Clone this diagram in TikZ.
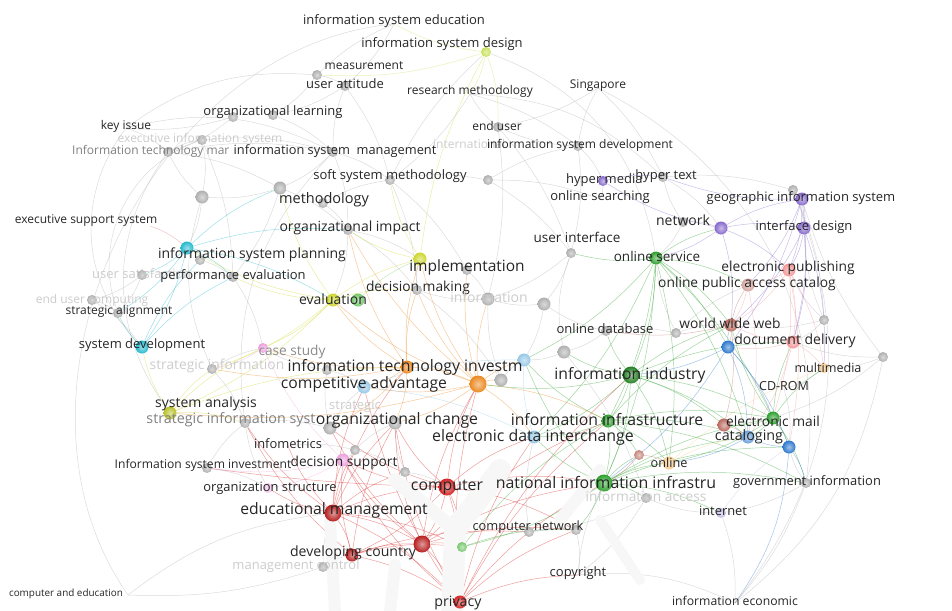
\documentclass[tikz,border=0pt]{standalone}
\usepackage{fontspec}
\setmainfont{Open Sans}
\usetikzlibrary{backgrounds}

\definecolor{cred}{RGB}{215,35,35}
\definecolor{cgreen}{RGB}{45,160,45}
\definecolor{corange}{RGB}{235,135,30}
\definecolor{cyellow}{RGB}{205,215,45}
\definecolor{ccyan}{RGB}{35,185,205}
\definecolor{cpurple}{RGB}{135,105,205}
\definecolor{cblue}{RGB}{45,120,205}
\definecolor{cpink}{RGB}{245,150,150}
\definecolor{cbrown}{RGB}{185,105,95}
\definecolor{clblue}{RGB}{150,200,230}
\definecolor{clpink}{RGB}{235,160,220}
\definecolor{cpeach}{RGB}{245,205,145}
\definecolor{cgray}{RGB}{175,175,175}
\definecolor{clgreen}{RGB}{120,200,110}
\definecolor{clav}{RGB}{195,190,230}
\definecolor{cygreen}{RGB}{200,225,90}

\tikzset{
  ball/.style={circle, inner sep=0pt, minimum size=10pt, inner color=#1!45!white, outer color=#1},
  ballm/.style={minimum size=13pt},
  ballb/.style={minimum size=17pt},
  lbl/.style={inner sep=0pt, text=black!85, font=\fontsize{#1}{#1}\selectfont},
  lbl/.default=13,
  dim/.style={text=black!50},
  fade/.style={text=black!20},
  edge/.style={line width=.5pt, opacity=.45, draw=#1},
  edge/.default=cgray
}

\begin{document}
\begin{tikzpicture}[x=1pt,y=-1pt]
\useasboundingbox (0,0) rectangle (952,610);

% FAINT TREE IN THE BACKGROUND
\draw[line width=22pt, black!3, line cap=round] (452,612) -- (455,530) -- (500,470);
\draw[line width=14pt, black!3, line cap=round] (455,530) -- (395,480);
\draw[line width=12pt, black!3, line cap=round] (330,520) -- (335,612);
\draw[line width=12pt, black!3, line cap=round] (395,565) -- (390,612);
\draw[line width=12pt, black!3, line cap=round] (560,520) -- (600,470);
\draw[line width=10pt, black!3, line cap=round] (600,520) -- (640,580);

% LABEL-ONLY POINTS
\coordinate (isEdu) at (394,24);
\coordinate (resMeth) at (470,94);
\coordinate (singapore) at (598,88);
\coordinate (keyIssue) at (126,128);
\coordinate (exSupport) at (150,226);
\coordinate (onlineSearch) at (600,199);
\coordinate (cdrom) at (784,389);
\coordinate (infometrics) at (288,446);
\coordinate (copyright) at (578,575);
\coordinate (infoEcon) at (735,603);
\coordinate (compEdu) at (128,595);

% GRAY NODES
\node[ball=cgray] (measure) at (317,75) {};
\node[ball=cgray] (userAtt) at (345,86) {};
\node[ball=cgray] (orgLearnA) at (233,117) {};
\node[ball=cgray] (orgLearnB) at (273,115) {};
\node[ball=cgray] (endUser) at (498,127) {};
\node[ball=cgray] (isDev) at (578,146) {};
\node[ball=cgray] (itMar) at (168,152) {};
\node[ball=cgray] (exInfo) at (202,140) {};
\node[ball=cgray] (isMgmt) at (333,152) {};
\node[ball=cgray] (softSys) at (390,180) {};
\node[ball=cgray] (grayA) at (488,180) {};
\node[ball=cgray,ballm] (method) at (280,188) {};
\node[ball=cgray,ballm] (grayB) at (202,197) {};
\node[ball=cgray] (methodB) at (323,203) {};
\node[ball=cgray] (hyperText) at (663,177) {};
\node[ball=cgray] (geoB) at (793,190) {};
\node[ball=cgray] (netB) at (683,222) {};
\node[ball=cgray] (orgImpact) at (348,230) {};
\node[ball=cgray] (userInt) at (571,253) {};
\node[ball=cgray] (ispB) at (200,260) {};
\node[ball=cgray] (perfEval) at (233,277) {};
\node[ball=cgray] (userSat) at (142,275) {};
\node[ball=cgray] (endUserC) at (92,300) {};
\node[ball=cgray] (stratAlign) at (118,313) {};
\node[ball=cgray] (implB) at (467,270) {};
\node[ball=cgray] (decMake) at (417,290) {};
\node[ball=cgray,ballm] (info) at (488,299) {};
\node[ball=cgray,ballm] (grayC) at (544,304) {};
\node[ball=cgray] (onlineDb) at (606,331) {};
\node[ball=cgray] (grayD) at (676,333) {};
\node[ball=cgray,ballm] (grayE) at (564,352) {};
\node[ball=cgray,ballm] (grayF) at (501,380) {};
\node[ball=cgray] (grayG) at (824,320) {};
\node[ball=cgray] (grayH) at (883,357) {};
\node[ball=cgray] (stratInfo) at (212,369) {};
\node[ball=cgray] (grayI) at (327,370) {};
\node[ball=cgray] (stratIS) at (245,423) {};
\node[ball=cgray,ballm] (grayJ) at (330,428) {};
\node[ball=cgray,ballm] (orgChange) at (395,423) {};
\node[ball=cgray] (grayK) at (355,450) {};
\node[ball=cgray] (isInvest) at (207,468) {};
\node[ball=cgray] (grayL) at (405,472) {};
\node[ball=cgray] (mgmt) at (323,567) {};
\node[ball=cgray] (compNetB) at (529,532) {};
\node[ball=cgray] (compNet) at (576,530) {};
\node[ball=cgray] (infoAccess) at (646,498) {};
\node[ball=cgray] (govInfo) at (806,483) {};

% COLOURED NODES
\node[ball=cygreen] (isDesign) at (486,52) {};
\node[ball=cpurple] (hyperMedia) at (603,181) {};
\node[ball=cpurple,ballm] (geo) at (802,199) {};
\node[ball=cpurple,ballm] (network) at (721,228) {};
\node[ball=cpurple,ballm] (interface) at (804,228) {};
\node[ball=ccyan,ballm] (isp) at (187,248) {};
\node[ball=cyellow,ballm] (implement) at (420,259) {};
\node[ball=cgreen,ballm] (onlineServ) at (656,258) {};
\node[ball=cpink,ballm] (ePub) at (789,270) {};
\node[ball=cbrown!60!white,ballm] (opac) at (748,285) {};
\node[ball=cyellow,ballm] (eval) at (333,300) {};
\node[ball=clgreen,ballm] (evalB) at (358,300) {};
\node[ball=cbrown,ballm] (www) at (731,325) {};
\node[ball=ccyan,ballm] (sysDev) at (142,347) {};
\node[ball=cblue,ballm] (blueA) at (728,347) {};
\node[ball=cpink,ballm] (docDel) at (793,342) {};
\node[ball=clpink] (caseStudy) at (263,348) {};
\node[ball=clblue,ballm] (lblueA) at (524,360) {};
\node[ball=corange,ballm] (itInv) at (407,367) {};
\node[ball=corange,ballb] (itInvB) at (478,384) {};
\node[ball=cpeach] (multimedia) at (824,368) {};
\node[ball=clblue,ballm] (compAdv) at (364,387) {};
\node[ball=cgreen!80!black,ballb] (infoInd) at (631,375) {};
\node[ball=cyellow!90!black,ballm] (sysAnal) at (170,413) {};
\node[ball=cgreen,ballm] (infoInfra) at (608,421) {};
\node[ball=cbrown,ballm] (brownB) at (724,425) {};
\node[ball=cgreen,ballm] (email) at (773,418) {};
\node[ball=clblue,ballm] (edi) at (534,437) {};
\node[ball=cblue!70!white,ballm] (catalog) at (748,437) {};
\node[ball=cblue,ballm] (blueB) at (789,447) {};
\node[ball=clpink,ballm] (decSup) at (343,460) {};
\node[ball=cbrown!80!white] (brownC) at (639,455) {};
\node[ball=cpeach,ballm] (online) at (669,463) {};
\node[ball=cred,ballb] (computer) at (447,487) {};
\node[ball=cgreen,ballb] (nii) at (604,483) {};
\node[ball=clpink!60!white] (orgStruct) at (268,488) {};
\node[ball=cred!85!black,ballb] (eduMgmt) at (333,513) {};
\node[ball=clav] (internet) at (721,513) {};
\node[ball=cred!85!black,ballb] (redB) at (422,544) {};
\node[ball=clgreen] (greenB) at (462,547) {};
\node[ball=cred!85!black,ballm] (devCountry) at (352,555) {};
\node[ball=cred,ballm] (privacy) at (460,602) {};

% EDGES
\begin{scope}[on background layer, every to/.style={bend left=10}]
% gray web
\draw[edge] (measure) to (userAtt); \draw[edge] (measure) to (isEdu); \draw[edge] (userAtt) to (orgLearnB); \draw[edge] (orgLearnA) to (itMar); \draw[edge] (orgLearnA) to (keyIssue); \draw[edge] (itMar) to (exInfo); \draw[edge] (itMar) to (isMgmt); \draw[edge] (exInfo) to (isMgmt); \draw[edge] (isMgmt) to (softSys); \draw[edge] (isMgmt) to (method);
\draw[edge] (softSys) to (grayA); \draw[edge] (grayA) to (isDev); \draw[edge] (isDev) to (endUser); \draw[edge] (isDev) to (singapore); \draw[edge] (endUser) to (resMeth); \draw[edge] (method) to (grayB); \draw[edge] (grayB) to (itMar); \draw[edge] (method) to (orgImpact); \draw[edge] (methodB) to (softSys); \draw[edge] (orgLearnB) to (isMgmt);
\draw[edge] (userInt) to (grayC); \draw[edge] (userInt) to (info); \draw[edge] (grayC) to (info); \draw[edge] (info) to (decMake); \draw[edge] (decMake) to (implement); \draw[edge] (onlineDb) to (grayC); \draw[edge] (onlineDb) to (grayE); \draw[edge] (grayE) to (lblueA); \draw[edge] (grayF) to (lblueA); \draw[edge] (grayF) to (info);
\draw[edge] (grayG) to (ePub); \draw[edge] (grayG) to (docDel); \draw[edge] (grayH) to (multimedia); \draw[edge] (grayH) to (geo); \draw[edge] (grayH) to (email); \draw[edge] (grayG) to (interface); \draw[edge] (grayD) to (onlineServ); \draw[edge] (grayD) to (www); \draw[edge] (netB) to (hyperText); \draw[edge] (netB) to (onlineServ);
\draw[edge] (userSat) to (endUserC); \draw[edge] (endUserC) to (stratAlign); \draw[edge] (userSat) to (perfEval); \draw[edge] (stratInfo) to (caseStudy); \draw[edge] (grayI) to (caseStudy); \draw[edge] (stratIS) to (grayJ); \draw[edge] (grayJ) to (orgChange); \draw[edge] (grayK) to (decSup); \draw[edge] (grayL) to (computer); \draw[edge] (grayK) to (orgChange);
\draw[edge] (govInfo) to (infoEcon); \draw[edge] (govInfo) to (blueB); \draw[edge] (internet) to (infoEcon); \draw[edge] (internet) to (infoAccess); \draw[edge] (compNet) to (copyright); \draw[edge] (compNetB) to (compNet); \draw[edge] (mgmt) to (devCountry); \draw[edge] (mgmt) to (compEdu); \draw[edge] (isInvest) to (stratIS); \draw[edge] (infometrics) to (grayK);
\draw[edge] (hyperMedia) to (onlineSearch); \draw[edge] (hyperText) to (geoB); \draw[edge] (geoB) to (grayG); \draw[edge] (singapore) to (hyperText); \draw[edge] (grayA) to (userInt); \draw[edge] (endUser) to (info); \draw[edge] (isDev) to (hyperMedia); \draw[edge] (softSys) to (implB); \draw[edge] (implB) to (info); \draw[edge] (orgImpact) to (decMake);
\draw[edge] (isMgmt) to (orgImpact); \draw[edge] (isMgmt) to (userAtt); \draw[edge] (measure) to (orgLearnB); \draw[edge] (userAtt) to (softSys); \draw[edge] (itMar) to (method); \draw[edge] (exInfo) to (grayB); \draw[edge] (grayB) to (isp); \draw[edge] (method) to (perfEval); \draw[edge] (methodB) to (orgImpact); \draw[edge] (orgImpact) to (eval); \draw[edge] (orgImpact) to (implement); \draw[edge] (softSys) to (decMake);
\draw[edge] (endUser) to (userInt); \draw[edge] (isDev) to (userInt); \draw[edge] (grayA) to (onlineSearch); \draw[edge] (keyIssue) to (itMar); \draw[edge] (exInfo) to (perfEval); \draw[edge] (userSat) to (stratAlign); \draw[edge] (endUserC) to (sysDev); \draw[edge] (perfEval) to (caseStudy); \draw[edge] (stratInfo) to (stratIS); \draw[edge] (grayI) to (compAdv); \draw[edge] (grayJ) to (compAdv); \draw[edge] (isInvest) to (orgStruct);
\draw[edge] (orgStruct) to (stratIS); \draw[edge] (grayK) to (grayL); \draw[edge] (grayL) to (orgChange); \draw[edge] (onlineDb) to (grayD); \draw[edge] (grayD) to (opac); \draw[edge] (grayC) to (lblueA); \draw[edge] (hyperText) to (network); \draw[edge] (geoB) to (interface); \draw[edge] (netB) to (network); \draw[edge] (grayG) to (www); \draw[edge] (grayH) to (docDel); \draw[edge] (multimedia) to (cdrom);
\draw[edge] (govInfo) to (internet); \draw[edge] (infoAccess) to (compNetB); \draw[edge] (compNetB) to (edi); \draw[edge] (mgmt) to (eduMgmt); \draw[edge] (copyright) to (nii); \draw[edge] (softSys) to (isDesign); \draw[edge] (resMeth) to (softSys); \draw[edge] (isEdu) to (userAtt); \draw[edge] (singapore) to (endUser); \draw[edge] (resMeth) to (isDev); \draw[edge] (measure) to[bend right=20] (keyIssue); \draw[edge] (ispB) to (perfEval);
% long gray arcs
\draw[edge] (isEdu) to[bend right=60] (compEdu); \draw[edge] (keyIssue) to[bend right=40] (sysDev); \draw[edge] (exInfo) to[bend right=45] (stratAlign); \draw[edge] (itMar) to[bend right=35] (sysAnal); \draw[edge] (compEdu) to[bend left=15] (eduMgmt); \draw[edge] (singapore) to[bend left=35] (govInfo); \draw[edge] (geoB) to[bend left=30] (infoEcon); \draw[edge] (grayH) to[bend left=20] (infoEcon); \draw[edge] (isDesign) to[bend left=30] (onlineServ); \draw[edge] (isMgmt) to[bend right=25] (stratIS);
\draw[edge] (copyright) to[bend left=15] (infoEcon); \draw[edge] (infoAccess) to[bend left=10] (copyright); \draw[edge] (grayB) to[bend right=20] (stratInfo); \draw[edge] (keyIssue) to[bend left=20] (isMgmt); \draw[edge] (resMeth) to[bend left=20] (hyperText); \draw[edge] (grayI) to[bend right=10] (grayJ); \draw[edge] (decMake) to (grayF); \draw[edge] (userInt) to[bend right=15] (grayE); \draw[edge] (grayE) to (infoAccess); \draw[edge] (cdrom) to (blueB);
% cyan and yellow
\draw[edge=ccyan] (isp) to (sysDev); \draw[edge=ccyan] (isp) to (method); \draw[edge=ccyan] (isp) to (orgImpact); \draw[edge=ccyan] (isp) to (perfEval); \draw[edge=ccyan] (isp) to (stratAlign); \draw[edge=ccyan] (isp) to (userSat); \draw[edge=ccyan] (isp) to (eval); \draw[edge=ccyan] (sysDev) to (stratAlign); \draw[edge=ccyan] (sysDev) to (perfEval); \draw[edge=ccyan] (sysDev) to (ispB); \draw[edge=cred!60] (exSupport) to (isp);
\draw[edge=cyellow] (eval) to (implement); \draw[edge=cyellow] (eval) to (isp); \draw[edge=cyellow] (eval) to (sysAnal); \draw[edge=cyellow] (eval) to (caseStudy); \draw[edge=cyellow] (eval) to (perfEval); \draw[edge=cyellow] (eval) to (stratInfo); \draw[edge=cyellow] (eval) to (decMake); \draw[edge=cyellow] (eval) to (method); \draw[edge=cyellow] (implement) to (isDesign); \draw[edge=cyellow] (implement) to (softSys); \draw[edge=cyellow] (implement) to (orgImpact);
\draw[edge=cyellow] (sysAnal) to (stratIS); \draw[edge=cyellow] (sysAnal) to (stratInfo); \draw[edge=cyellow] (sysAnal) to (sysDev); \draw[edge=cyellow] (sysAnal) to (caseStudy); \draw[edge=cyellow] (sysAnal) to (itInv); \draw[edge=cygreen] (isDesign) to (isEdu); \draw[edge=cygreen] (isDesign) to (resMeth); \draw[edge=cygreen] (isDesign) to (endUser); \draw[edge=cygreen] (isDesign) to (measure); \draw[edge=clgreen] (evalB) to (implement);
% orange
\draw[edge=corange] (itInv) to (itInvB); \draw[edge=corange] (itInv) to (compAdv); \draw[edge=corange] (itInv) to (implement); \draw[edge=corange] (itInv) to (eval); \draw[edge=corange] (itInv) to (decMake); \draw[edge=corange] (itInv) to (orgChange); \draw[edge=corange] (itInv) to (caseStudy); \draw[edge=corange] (itInv) to (orgImpact); \draw[edge=corange] (itInv) to (stratInfo); \draw[edge=corange] (itInv) to (grayJ);
\draw[edge=corange] (itInvB) to (implement); \draw[edge=corange] (itInvB) to (decMake); \draw[edge=corange] (itInvB) to (compAdv); \draw[edge=corange] (itInvB) to (orgChange); \draw[edge=corange] (itInvB) to (edi); \draw[edge=corange] (itInvB) to (info); \draw[edge=corange] (itInvB) to (grayF); \draw[edge=corange] (itInvB) to (lblueA); \draw[edge=corange] (itInvB) to (eval); \draw[edge=corange] (itInvB) to (orgImpact); \draw[edge=corange] (itInvB) to (sysAnal); \draw[edge=corange] (itInvB) to (infoInfra); \draw[edge=corange] (itInvB) to (implB);
% red
\draw[edge=cred] (eduMgmt) to (computer); \draw[edge=cred] (eduMgmt) to (devCountry); \draw[edge=cred] (eduMgmt) to (redB); \draw[edge=cred] (eduMgmt) to (privacy); \draw[edge=cred] (eduMgmt) to (decSup); \draw[edge=cred] (eduMgmt) to (orgChange); \draw[edge=cred] (eduMgmt) to (stratIS); \draw[edge=cred] (eduMgmt) to (grayK); \draw[edge=cred] (eduMgmt) to (orgStruct); \draw[edge=cred] (eduMgmt) to (greenB); \draw[edge=cred] (eduMgmt) to (itInv); \draw[edge=cred] (eduMgmt) to (compAdv); \draw[edge=cred] (eduMgmt) to (grayL); \draw[edge=cred] (eduMgmt) to (infometrics);
\draw[edge=cred] (computer) to (privacy); \draw[edge=cred] (computer) to (redB); \draw[edge=cred] (computer) to (devCountry); \draw[edge=cred] (computer) to (decSup); \draw[edge=cred] (computer) to (orgChange); \draw[edge=cred] (computer) to (greenB); \draw[edge=cred] (computer) to (nii); \draw[edge=cred] (computer) to (compNet); \draw[edge=cred] (computer) to (itInvB); \draw[edge=cred] (computer) to (edi); \draw[edge=cred] (computer) to[bend left=3] (isInvest); \draw[edge=cred] (computer) to (grayJ);
\draw[edge=cred] (devCountry) to (privacy); \draw[edge=cred] (devCountry) to (redB); \draw[edge=cred] (devCountry) to (greenB); \draw[edge=cred] (devCountry) to (decSup); \draw[edge=cred] (devCountry) to (orgChange); \draw[edge=cred] (devCountry) to (compNetB); \draw[edge=cred] (devCountry) to (stratIS);
\draw[edge=cred] (redB) to (privacy); \draw[edge=cred] (redB) to (greenB); \draw[edge=cred] (redB) to (orgChange); \draw[edge=cred] (redB) to (compNet); \draw[edge=cred] (redB) to (nii); \draw[edge=cred] (redB) to (itInvB); \draw[edge=cred] (redB) to (infoInfra); \draw[edge=cred] (redB) to (decSup); \draw[edge=cred] (redB) to (grayJ);
\draw[edge=cred] (privacy) to (greenB); \draw[edge=cred] (privacy) to (copyright); \draw[edge=cred] (privacy) to (nii); \draw[edge=cred] (privacy) to (compNet); \draw[edge=cred] (privacy) to (edi); \draw[edge=cred] (privacy) to (itInvB); \draw[edge=cred] (privacy) to (infoInd); \draw[edge=cred] (privacy) to (orgChange); \draw[edge=cred] (privacy) to (decSup); \draw[edge=cred] (privacy) to (compAdv); \draw[edge=cred] (privacy) to (infoInfra);
% green
\draw[edge=cgreen] (onlineServ) to (infoInd); \draw[edge=cgreen] (onlineServ) to (infoInfra); \draw[edge=cgreen] (onlineServ) to (nii); \draw[edge=cgreen] (onlineServ) to (email); \draw[edge=cgreen] (onlineServ) to (www); \draw[edge=cgreen] (onlineServ) to (userInt); \draw[edge=cgreen] (onlineServ) to (network); \draw[edge=cgreen] (onlineServ) to (online); \draw[edge=cgreen] (onlineServ) to (catalog); \draw[edge=cgreen] (onlineServ) to (lblueA); \draw[edge=cgreen] (onlineServ) to (edi); \draw[edge=cgreen] (onlineServ) to (opac); \draw[edge=cgreen] (onlineServ) to (blueA);
\draw[edge=cgreen] (infoInd) to (infoInfra); \draw[edge=cgreen] (infoInd) to (nii); \draw[edge=cgreen] (infoInd) to (email); \draw[edge=cgreen] (infoInd) to (docDel); \draw[edge=cgreen] (infoInd) to (online); \draw[edge=cgreen] (infoInd) to (catalog); \draw[edge=cgreen] (infoInd) to (itInvB); \draw[edge=cgreen] (infoInd) to (edi); \draw[edge=cgreen] (infoInd) to (www); \draw[edge=cgreen] (infoInd) to (brownB); \draw[edge=cgreen] (infoInd) to (grayE); \draw[edge=cgreen] (infoInd) to (onlineDb);
\draw[edge=cgreen] (infoInfra) to (nii); \draw[edge=cgreen] (infoInfra) to (email); \draw[edge=cgreen] (infoInfra) to (catalog); \draw[edge=cgreen] (infoInfra) to (edi); \draw[edge=cgreen] (infoInfra) to (online); \draw[edge=cgreen] (infoInfra) to (brownC); \draw[edge=cgreen] (infoInfra) to (www); \draw[edge=cgreen] (infoInfra) to (lblueA); \draw[edge=cgreen] (infoInfra) to (govInfo);
\draw[edge=cgreen] (nii) to (email); \draw[edge=cgreen] (nii) to (online); \draw[edge=cgreen] (nii) to (govInfo); \draw[edge=cgreen] (nii) to (internet); \draw[edge=cgreen] (nii) to (catalog); \draw[edge=cgreen] (nii) to (edi); \draw[edge=cgreen] (nii) to (brownC); \draw[edge=cgreen] (nii) to (infoAccess); \draw[edge=cgreen] (nii) to (compNet); \draw[edge=cgreen] (nii) to (greenB); \draw[edge=cgreen] (nii) to (blueB); \draw[edge=cgreen] (nii) to (lblueA);
\draw[edge=cgreen] (email) to (catalog); \draw[edge=cgreen] (email) to (blueB); \draw[edge=cgreen] (email) to (docDel); \draw[edge=cgreen] (email) to (www); \draw[edge=cgreen] (email) to (online); \draw[edge=cgreen] (email) to (govInfo); \draw[edge=cgreen] (email) to (brownB); \draw[edge=cgreen] (email) to (multimedia); \draw[edge=cgreen] (greenB) to (compNet); \draw[edge=cgreen] (greenB) to (infoInfra);
% purple, pink, blue, brown
\draw[edge=cpurple] (network) to (geo); \draw[edge=cpurple] (network) to (interface); \draw[edge=cpurple] (network) to (onlineServ); \draw[edge=cpurple] (network) to (www); \draw[edge=cpurple] (network) to (ePub); \draw[edge=cpurple] (network) to (hyperMedia); \draw[edge=cpurple] (geo) to (interface); \draw[edge=cpurple] (geo) to (ePub); \draw[edge=cpurple] (geo) to (opac); \draw[edge=cpurple] (geo) to (hyperText); \draw[edge=cpurple] (interface) to (ePub); \draw[edge=cpurple] (interface) to (docDel); \draw[edge=cpurple] (interface) to (multimedia); \draw[edge=cpurple] (interface) to (www); \draw[edge=cpurple] (hyperMedia) to (hyperText); \draw[edge=cpurple] (geo) to (docDel); \draw[edge=cpurple] (geo) to (blueA);
\draw[edge=cpink] (ePub) to (docDel); \draw[edge=cpink] (ePub) to (opac); \draw[edge=cpink] (ePub) to (www); \draw[edge=cpink] (ePub) to (multimedia); \draw[edge=cpink] (ePub) to (email); \draw[edge=cpink] (docDel) to (www); \draw[edge=cpink] (docDel) to (catalog); \draw[edge=cpink] (docDel) to (multimedia); \draw[edge=cpink] (docDel) to (blueA); \draw[edge=cpink] (opac) to (www); \draw[edge=cpink] (opac) to (catalog); \draw[edge=cpink] (ePub) to (blueB);
\draw[edge=cblue] (blueA) to (catalog); \draw[edge=cblue] (blueA) to (blueB); \draw[edge=cblue] (blueA) to (email); \draw[edge=cblue] (blueA) to (www); \draw[edge=cblue] (blueA) to (infoInd); \draw[edge=cblue] (blueB) to (govInfo); \draw[edge=cblue] (blueB) to (catalog); \draw[edge=cblue] (blueB) to[bend left=15] (infoEcon); \draw[edge=cblue] (catalog) to (online); \draw[edge=cblue] (blueA) to (nii);
\draw[edge=cbrown] (www) to (blueA); \draw[edge=cbrown] (www) to (opac); \draw[edge=cbrown] (www) to (brownB); \draw[edge=cbrown] (brownB) to (catalog); \draw[edge=cbrown] (brownC) to (online); \draw[edge=cbrown] (brownC) to (nii); \draw[edge=cbrown] (www) to (onlineDb);
\draw[edge=clblue] (compAdv) to (edi); \draw[edge=clblue] (compAdv) to (lblueA); \draw[edge=clblue] (edi) to (lblueA); \draw[edge=clpink] (decSup) to (orgStruct); \draw[edge=clpink] (decSup) to (caseStudy); \draw[edge=clpink] (decSup) to (isInvest); \draw[edge=clpink] (caseStudy) to (stratInfo); \draw[edge=cpeach] (online) to (multimedia); \draw[edge=cpeach] (online) to (catalog); \draw[edge=clav] (internet) to (blueB);
\end{scope}

% LABELS
\node[lbl] (tIsEdu) at (394,21) {information system education};
\node[lbl] (tIsDesign) at (442,44) {information system design};
\node[lbl=12] (tMeasure) at (364,66) {measurement};
\node[lbl] (tUserAtt) at (345,84) {user attitude};
\node[lbl=12] (tResMeth) at (470,91) {research methodology};
\node[lbl=12] (tSingapore) at (598,86) {Singapore};
\node[lbl] (tOrgLearn) at (273,112) {organizational learning};
\node[lbl=12] (tKeyIssue) at (126,126) {key issue};
\node[lbl=12] (tEndUser) at (497,126) {end user};
\node[lbl=12,fade] (tExInfo) at (200,139) {executive information system};
\node[lbl=12,fade,anchor=west] (tIntl) at (433,144) {international};
\node[lbl=12] (tIsDev) at (580,145) {information system development};
\node[lbl=12,dim,anchor=west] (tItMar) at (72,151) {Information technology mar};
\node[lbl=12.8] (tIsMgmt) at (335,151) {information system\ \ management};
\node[lbl] (tSoftSys) at (390,176) {soft system methodology};
\node[lbl,anchor=west] (tHyperMedia) at (566,180) {hyper media};
\node[lbl] (tHyperText) at (666,176) {hyper text};
\node[lbl] (tOnlineSearch) at (600,197) {online searching};
\node[lbl] (tGeo) at (801,198) {geographic information system};
\node[lbl=14.5] (tMethod) at (324,200) {methodology};
\node[lbl=12] (tExSupport) at (86,221) {executive support system};
\node[lbl=14] (tOrgImpact) at (350,228) {organizational impact};
\node[lbl=14] (tNetwork) at (683,220) {network};
\node[lbl] (tInterface) at (804,227) {interface design};
\node[lbl=13.5] (tUserInt) at (577,237) {user interface};
\node[lbl=14] (tIsp) at (252,255) {information system planning};
\node[lbl=15.5] (tImplement) at (467,267) {implementation};
\node[lbl=13.5] (tOnlineServ) at (657,256) {online service};
\node[lbl=13.8] (tEPub) at (788,268) {electronic publishing};
\node[lbl,fade,anchor=west] (tUserSat) at (92,274) {user satisfaction};
\node[lbl] (tPerfEval) at (233,276) {performance evaluation};
\node[lbl=13.8] (tOpac) at (747,284) {online public access catalog};
\node[lbl=13.8] (tDecMake) at (418,288) {decision making};
\node[lbl=14,fade] (tInfo) at (489,297) {information};
\node[lbl=14] (tEval) at (333,299) {evaluation};
\node[lbl=12,fade] (tEndUserC) at (92,300) {end user computing};
\node[lbl=12] (tStratAlign) at (119,311) {strategic alignment};
\node[lbl=13.8] (tWww) at (730,323) {world wide web};
\node[lbl] (tOnlineDb) at (605,329) {online database};
\node[lbl] (tSysDev) at (142,345) {system development};
\node[lbl=14] (tDocDel) at (795,341) {document delivery};
\node[lbl=13.7,text=black!45] (tCaseStudy) at (292,352) {case study};
\node[lbl=13.8,fade] (tStratInfo) at (217,366) {strategic information};
\node[lbl=15.8] (tItInv) at (405,367) {information technology investm};
\node[lbl=12.6] (tMultimedia) at (828,368) {multimedia};
\node[lbl=15.7] (tCompAdv) at (364,384) {competitive advantage};
\node[lbl=15.7] (tInfoInd) at (630,375) {information industry};
\node[lbl=12.5] (tCdrom) at (784,386) {CD-ROM};
\node[lbl=14] (tSysAnal) at (206,404) {system analysis};
\node[lbl=13,fade] (tStrategi) at (355,406) {strategic};
\node[lbl=14.3,dim] (tStratIS) at (231,420) {strategic information syst};
\node[lbl=15.8] (tOrgChange) at (397,420) {organizational change};
\node[lbl=15.8] (tInfoInfra) at (607,420) {information infrastructure};
\node[lbl=13.8] (tEmail) at (773,421) {electronic mail};
\node[lbl=15.9] (tEdi) at (533,437) {electronic data interchange};
\node[lbl=14.3] (tCatalog) at (749,437) {cataloging};
\node[lbl=12.9] (tInfometrics) at (288,444) {infometrics};
\node[lbl=12.1] (tIsInvest) at (203,465) {Information system investment};
\node[lbl=13.7] (tDecSup) at (344,463) {decision support};
\node[lbl=12.7] (tOnline) at (669,463) {online};
\node[lbl=15.8] (tComputer) at (447,487) {computer};
\node[lbl=15.9] (tNii) at (606,482) {national information infrastru};
\node[lbl=13.7,fade] (tInfoAccess) at (646,496) {information access};
\node[lbl=12.9] (tGovInfo) at (807,482) {government information};
\node[lbl=12.9] (tOrgStruct) at (270,488) {organization structure};
\node[lbl=15.7] (tEduMgmt) at (334,510) {educational management};
\node[lbl=12.9] (tInternet) at (723,511) {internet};
\node[lbl=12.8] (tCompNet) at (528,527) {computer network};
\node[lbl=14.1] (tDevCountry) at (353,553) {developing country};
\node[lbl=13,fade] (tMgmt) at (296,566) {management control};
\node[lbl=13] (tCopyright) at (578,573) {copyright};
\node[lbl=9.9] (tCompEdu) at (66,594) {computer and education};
\node[lbl=14.2] (tPrivacy) at (458,603) {privacy};
\node[lbl=12.2] (tInfoEcon) at (735,601) {information economic};

\end{tikzpicture}
\end{document}
